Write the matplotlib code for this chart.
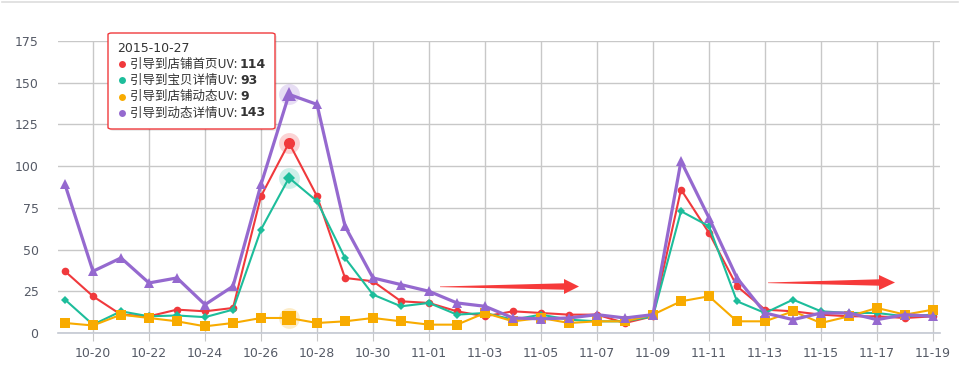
import matplotlib
matplotlib.use("Agg")
import matplotlib.pyplot as plt
from matplotlib.patches import Polygon, FancyBboxPatch
from matplotlib.lines import Line2D
import numpy as np

plt.rcParams['font.family'] = ['Noto Sans CJK SC', 'DejaVu Sans']

dates = ["10-19", "10-20", "10-21", "10-22", "10-23", "10-24", "10-25", "10-26",
         "10-27", "10-28", "10-29", "10-30", "10-31", "11-01", "11-02", "11-03",
         "11-04", "11-05", "11-06", "11-07", "11-08", "11-09", "11-10", "11-11",
         "11-12", "11-13", "11-14", "11-15", "11-16", "11-17", "11-18", "11-19"]

shop_home = [37, 22, 11, 10, 14, 13, 15, 82, 114, 82, 33, 31, 19, 18, 13, 10,
             13, 12, 11, 11, 6, 10, 86, 60, 28, 14, 13, 11, 10, 10, 9, 10]
item_detail = [20, 5, 13, 10, 10.5, 9.5, 14, 62, 93, 79, 45, 23, 16, 18, 11, 12,
               8, 11, 8, 7, 7, 10, 73, 64, 19, 12, 20, 13, 12, 12, 10, 11]
shop_feed = [6, 4.5, 11, 9, 7, 4, 6, 9, 9, 6, 7, 9, 7, 5, 5, 12,
             7, 9, 6, 7, 7, 11, 19, 22, 7, 7, 13, 6, 10, 15, 11, 14]
feed_detail = [89, 37, 45, 30, 33, 17, 28, 89, 143, 137, 64, 33, 29, 25, 18, 16,
               9, 8.5, 9, 11, 9, 11, 103, 69, 33, 12, 8, 12, 12, 8, 11, 10]

names = ["引导到店铺首页UV", "引导到宝贝详情UV", "引导到店铺动态UV", "引导到动态详情UV"]
colors = ["#f0393c", "#1dbd9b", "#f8ab00", "#9569cf"]
markers = ["o", "D", "s", "^"]
msizes = [5.5, 4.5, 6.5, 6.5]
lwidths = [1.5, 1.5, 1.5, 2.3]
series = [shop_home, item_detail, shop_feed, feed_detail]
hi = dates.index("10-27")

W, H = 961, 379
fig = plt.figure(figsize=(W / 100, H / 100), dpi=100)
ax = fig.add_axes([58 / W, 1 - 333 / H, (940 - 58) / W, (333 - 41) / H])

x = np.arange(len(dates))
for s, c, m, ms, lw in zip(series, colors, markers, msizes, lwidths):
    ax.plot(x, s, color=c, marker=m, markersize=ms, lw=lw, zorder=3,
            markeredgewidth=0, clip_on=False)
    ax.plot(x[hi], s[hi], marker="o", markersize=15, color=c, alpha=0.22,
            markeredgewidth=0, zorder=2, clip_on=False)
    ax.plot(x[hi], s[hi], marker=m, markersize=ms * 1.45, color=c,
            markeredgewidth=0, zorder=4, clip_on=False)

ax.set_xlim(-0.25, 31.25)
ax.set_ylim(0, 175)
ax.set_yticks(np.arange(0, 176, 25))
ax.set_xticks(x[1::2])
ax.set_xticklabels(dates[1::2])
ax.grid(True, color="#c8c8c8", lw=1)
ax.set_axisbelow(True)
for sp in ["top", "right", "left"]:
    ax.spines[sp].set_visible(False)
ax.spines["bottom"].set_color("#c3c8d2")
ax.spines["bottom"].set_linewidth(1.2)
ax.tick_params(axis="x", length=6, color="#c8c8c8", colors="#555a66",
               labelsize=9, pad=4)
ax.tick_params(axis="y", length=0, colors="#555a66", labelsize=9, pad=14)
for lab in ax.get_xticklabels() + ax.get_yticklabels():
    lab.set_family("DejaVu Sans")

# top separator line
fig.add_artist(Line2D([2 / W, 958 / W], [1 - 1.5 / H] * 2, color="#dddddd", lw=1.2))

# tooltip
shadow = FancyBboxPatch((110 / W, 1 - 131 / H), (275 - 108) / W, (129 - 33) / H,
                        boxstyle="round,pad=0,rounding_size=0.004",
                        transform=fig.transFigure, facecolor="#000000",
                        alpha=0.08, edgecolor="none", zorder=9)
fig.add_artist(shadow)
box = FancyBboxPatch((108 / W, 1 - 129 / H), (275 - 108) / W, (129 - 33) / H,
                     boxstyle="round,pad=0,rounding_size=0.004",
                     transform=fig.transFigure, facecolor="white",
                     edgecolor="#f0393c", lw=1.0, zorder=10)
fig.add_artist(box)
fig.text(117 / W, 1 - 48 / H, "2015-10-27", fontsize=9, color="#333333",
         va="center", zorder=11, family="DejaVu Sans")
for i, (n, c, s) in enumerate(zip(names, colors, series)):
    yy = 1 - (64 + i * 16.3) / H
    fig.add_artist(Line2D([122 / W], [yy], marker="o", markersize=5, color=c,
                          markeredgewidth=0, zorder=11))
    t = fig.text(130 / W, yy, n + ": ", fontsize=9, color="#333333",
                 va="center", zorder=11)
    fig.canvas.draw()
    bb = t.get_window_extent()
    fig.text(bb.x1 / W, yy, str(s[hi]), fontsize=9, color="#333333",
             fontweight="bold", va="center", zorder=11, family="DejaVu Sans")


def arrow(x0, x1, yc, head_len, head_h, shaft_h):
    xb = x1 - head_len
    pts = [(x0, yc), (xb, yc - shaft_h), (xb, yc - head_h), (x1, yc),
           (xb, yc + head_h), (xb, yc + shaft_h), (x0, yc + 0.6)]
    pts = [(px / W, 1 - py / H) for px, py in pts]
    fig.add_artist(Polygon(pts, closed=True, transform=fig.transFigure,
                           facecolor="#f63a3a", edgecolor="none", zorder=8))


arrow(440, 579, 286.5, 15, 7.5, 3.2)
arrow(768, 895, 282.5, 16, 7.5, 3.2)

fig.savefig("out.png", dpi=100)
